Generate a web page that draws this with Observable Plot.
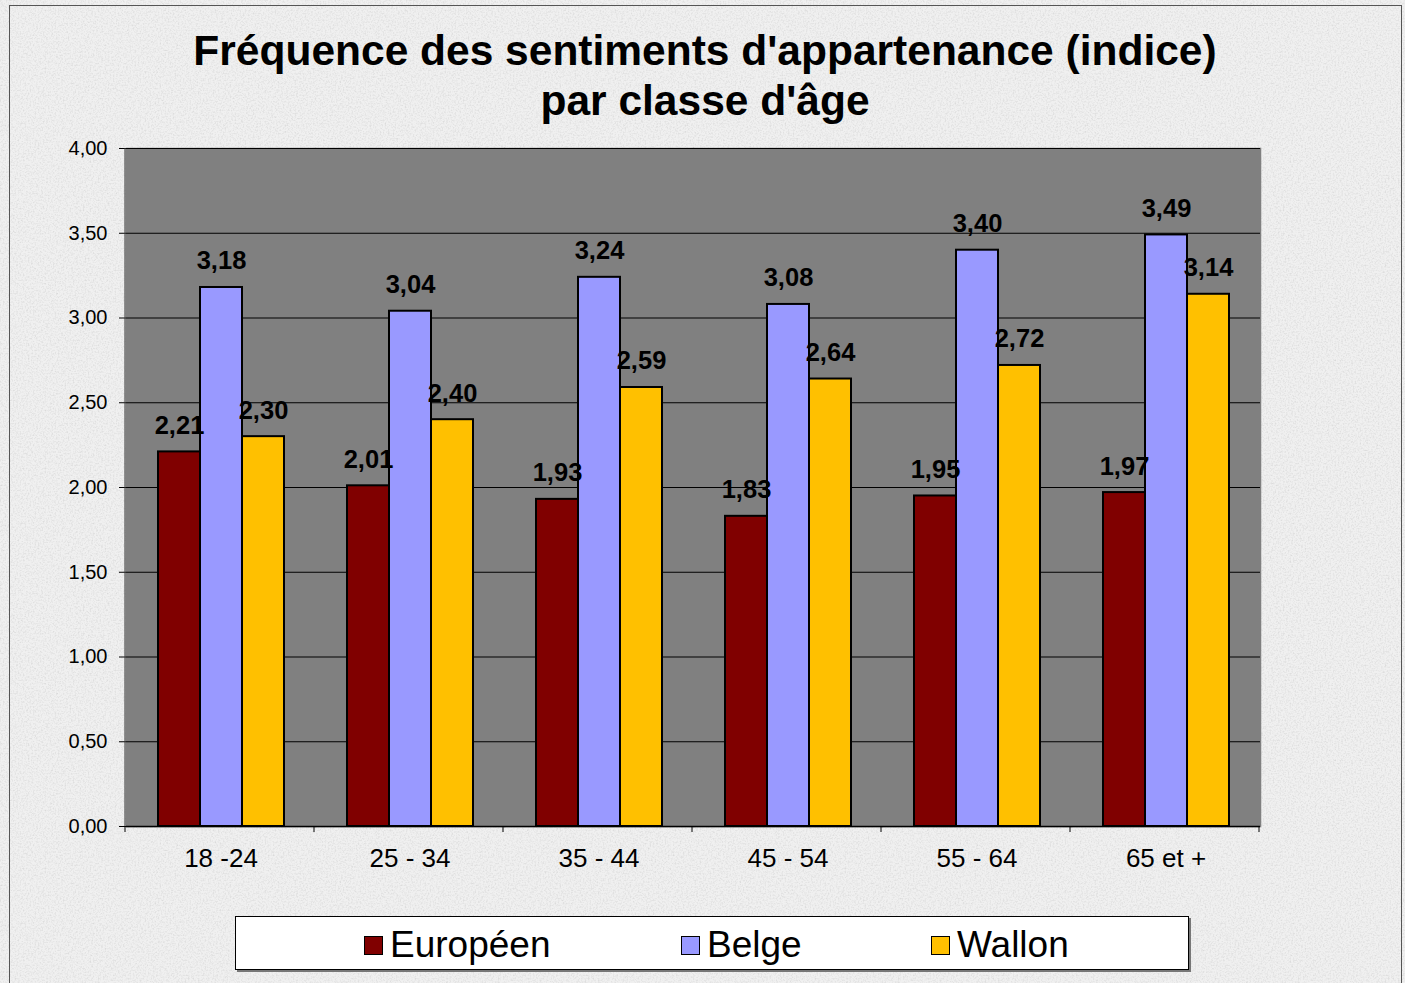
<!DOCTYPE html>
<html>
<head>
<meta charset="utf-8">
<script src="https://cdn.jsdelivr.net/npm/d3@7"></script>
<script src="https://cdn.jsdelivr.net/npm/@observablehq/plot@0.6"></script>
<style>
  html, body { margin: 0; padding: 0; }
  body { width: 1405px; height: 983px; overflow: hidden; font-family: "Liberation Sans", Arial, sans-serif; background: #ededed; }
  #wrap { position: relative; width: 1405px; height: 983px; }
  #border { position: absolute; left: 9px; top: 5px; width: 1393px; height: 990px; border: 1px solid #555; box-sizing: border-box; }
  #title { position: absolute; left: 0; top: 26px; width: 1410px; text-align: center; font-weight: bold; font-size: 42.5px; line-height: 50px; color: #000; }
  #chart { position: absolute; left: 0; top: 130px; }
  #legend { position: absolute; left: 235px; top: 916px; width: 954px; height: 54px; background: #fff; border: 1px solid #000; box-sizing: border-box; box-shadow: 2px 2px 0 #777; }
  .item { position: absolute; top: 7px; font-size: 37px; line-height: 42px; color: #000; white-space: nowrap; }
  .sw { display: inline-block; width: 17px; height: 17px; border: 1.5px solid #000; margin-right: 7px; vertical-align: 2px; }
</style>
</head>
<body>
<div id="wrap">
  <div id="border"></div>
  <div id="title">Fréquence des sentiments d'appartenance (indice)<br>par classe d'âge</div>
  <div id="chart"></div>
  <div id="legend"></div>
</div>
<script>
const categories = ["18 -24", "25 - 34", "35 - 44", "45 - 54", "55 - 64", "65 et +"];
const series = ["Européen", "Belge", "Wallon"];
const europeen = [2.21, 2.01, 1.93, 1.83, 1.95, 1.97];
const belge = [3.18, 3.04, 3.24, 3.08, 3.40, 3.49];
const wallon = [2.30, 2.40, 2.59, 2.64, 2.72, 3.14];
const colors = ["#800000", "#9999FF", "#FFC000"];
const yTicks = [0, 0.5, 1, 1.5, 2, 2.5, 3, 3.5, 4];
const legendLeft = [128, 445, 695];

// background texture
const tex = `<svg xmlns='http://www.w3.org/2000/svg' width='400' height='400'><filter id='n'><feTurbulence type='fractalNoise' baseFrequency='0.6' numOctaves='3' seed='4' stitchTiles='stitch'/><feColorMatrix type='matrix' values='0 0 0 0 0.62 0 0 0 0 0.62 0 0 0 0 0.62 0 0 0 -1.3 0.75'/></filter><rect width='400' height='400' fill='#f0f0f0'/><rect width='400' height='400' filter='url(#n)'/></svg>`;
document.body.style.backgroundImage = `url("data:image/svg+xml,${encodeURIComponent(tex)}")`;

const valuesBySeries = [europeen, belge, wallon];
const data = [];
categories.forEach((c, i) => {
  series.forEach((s, j) => data.push({cat: c, series: s, value: valuesBySeries[j][i]}));
});
const fmt = v => v.toFixed(2).replace(".", ",");

const W = 1405, H = 760;
const chart = Plot.plot({
  width: W,
  height: H,
  marginTop: 18,
  marginBottom: 64,
  marginLeft: 125,
  marginRight: 145,
  style: {background: "transparent", fontFamily: "'Liberation Sans', Arial, sans-serif", color: "#000", overflow: "visible"},
  fx: {domain: categories, padding: 0, label: null},
  x: {domain: series, paddingInner: 0, paddingOuter: 0.75, axis: null},
  y: {domain: [0, 4], label: null},
  color: {domain: series, range: colors},
  marks: [
    Plot.frame({fill: "#808080", stroke: "#808080", strokeWidth: 1.5}),
    Plot.gridY(yTicks, {stroke: "#000", strokeOpacity: 1, strokeWidth: 1}),
    Plot.barY(data, {fx: "cat", x: "series", y: "value", fill: "series", stroke: "#000", strokeWidth: 2}),
    Plot.ruleY([0], {stroke: "#000", strokeWidth: 1.5}),
    Plot.text(data, {fx: "cat", x: "series", y: "value", text: d => fmt(d.value), dy: -18, lineAnchor: "bottom", fontWeight: "bold", fontSize: 25.5, fill: "#000"}),
    Plot.axisY({ticks: yTicks, tickFormat: fmt, tickSize: 7, tickPadding: 12, fontSize: 20, label: null, stroke: "#000"}),
    Plot.axisFx({anchor: "bottom", tickSize: 0, tickPadding: 22, fontSize: 26, label: null})
  ]
});
document.getElementById("chart").appendChild(chart);

// category boundary ticks and left axis line
const fxs = chart.scale("fx");
const ys = chart.scale("y");
const r0 = fxs.range[0], r1 = fxs.range[1];
const step = fxs.step || (r1 - r0) / categories.length;
const yBase = ys.range[0], yTop = ys.range[1];
const svg = d3.select(chart.tagName.toLowerCase() === "svg" ? chart : chart.querySelector("svg"));
const g = svg.append("g");
d3.range(categories.length + 1).forEach(i => {
  const xx = r0 + i * step;
  g.append("line").attr("x1", xx).attr("x2", xx).attr("y1", yBase).attr("y2", yBase + 6).attr("stroke", "#000");
});
g.append("line").attr("x1", r0).attr("x2", r0).attr("y1", yTop).attr("y2", yBase).attr("stroke", "#333");

// legend
const leg = document.getElementById("legend");
series.forEach((s, j) => {
  const it = document.createElement("div");
  it.className = "item";
  it.style.left = legendLeft[j] + "px";
  it.innerHTML = `<span class="sw" style="background:${colors[j]}"></span>${s}`;
  leg.appendChild(it);
});
</script>
</body>
</html>
